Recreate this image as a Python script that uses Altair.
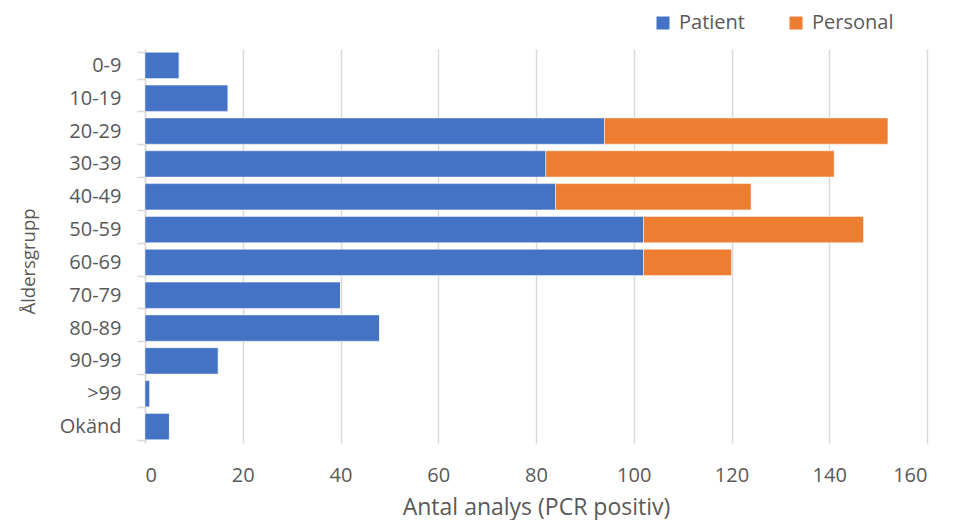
import altair as alt
import pandas as pd

groups = ["0-9", "10-19", "20-29", "30-39", "40-49", "50-59", "60-69",
          "70-79", "80-89", "90-99", ">99", "Okänd"]
patient = [7, 17, 94, 82, 84, 102, 102, 40, 48, 15, 1, 5]
personal = [0, 0, 58, 59, 40, 45, 18, 0, 0, 0, 0, 0]
series = ["Patient", "Personal"]
colors = ["#4472C4", "#ED7D31"]
x_ticks = [0, 20, 40, 60, 80, 100, 120, 140, 160]

rows = []
for g, p, q in zip(groups, patient, personal):
    rows.append({"grupp": g, "serie": "Patient", "antal": p, "ordning": 0})
    rows.append({"grupp": g, "serie": "Personal", "antal": q, "ordning": 1})
df = pd.DataFrame(rows)

FONT = "Open Sans"
GREY = "#595959"
LINE = "#d9d9d9"

chart = alt.Chart(df).mark_bar(
    stroke="white", strokeWidth=0.8, strokeOpacity=0.6
).encode(
    y=alt.Y("grupp:N", sort=groups,
            scale=alt.Scale(paddingInner=0.2, paddingOuter=0.1),
            axis=alt.Axis(title="Åldersgrupp", tickBand="extent", grid=False,
                          domainColor=LINE, domainWidth=1.5, tickColor=LINE,
                          tickWidth=1.5, tickSize=8, labelPadding=16,
                          labelFontSize=20, labelColor=GREY, labelFont=FONT,
                          titleFont=FONT, titleFontSize=18.5, titleColor=GREY,
                          titleFontWeight="normal", titleX=-107, titleY=212)),
    x=alt.X("antal:Q", stack="zero",
            scale=alt.Scale(domain=[0, 160], nice=False),
            axis=alt.Axis(title="Antal analys (PCR positiv)", values=x_ticks,
                          domain=False, ticks=False, grid=True,
                          gridColor=LINE, gridWidth=1.5,
                          labelBaseline="alphabetic", labelPadding=38,
                          labelFontSize=20, labelColor=GREY, labelFont=FONT,
                          titleFont=FONT, titleFontSize=23, titleColor=GREY,
                          titleFontWeight="normal", titleBaseline="alphabetic",
                          titleY=71)),
    color=alt.Color("serie:N", sort=series,
                    scale=alt.Scale(domain=series, range=colors),
                    legend=alt.Legend(title=None, orient="none", direction="horizontal",
                                      legendX=508, legendY=-36, symbolType="square",
                                      symbolSize=169, symbolStrokeWidth=0,
                                      labelFontSize=20, labelColor=GREY, labelFont=FONT,
                                      columnPadding=41, labelOffset=6)),
    order=alt.Order("ordning:Q"),
).properties(
    width=782, height=394,
    autosize=alt.AutoSizeParams(type="none"),
    padding={"left": 137, "top": 41, "right": 20, "bottom": 77},
).configure_view(stroke=None)

chart.save("out.html", embed_options={"renderer": "svg", "actions": False})
